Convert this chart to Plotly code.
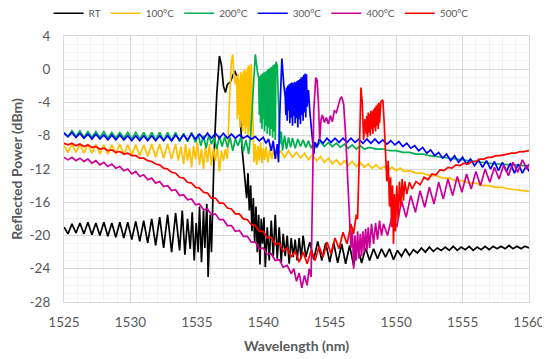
import plotly.graph_objects as go

# ---------------- data (wavelength nm, reflected power dBm) ----------------
rt_data = [
    (1525.0, -19.0), (1525.3, -19.8), (1525.6, -18.6), (1525.9, -19.7), (1526.2, -18.5), (1526.5, -19.8),
    (1526.8, -18.4), (1527.1, -19.9), (1527.4, -18.5), (1527.7, -20.0), (1528.0, -18.4), (1528.3, -20.1),
    (1528.6, -18.5), (1528.9, -20.2), (1529.2, -18.4), (1529.5, -20.3), (1529.8, -18.4), (1530.1, -20.5),
    (1530.4, -18.3), (1530.7, -20.7), (1531.0, -18.2), (1531.3, -20.9), (1531.6, -18.0), (1531.9, -21.2),
    (1532.2, -17.8), (1532.5, -21.5), (1532.8, -17.5), (1533.1, -22.0), (1533.4, -17.3), (1533.7, -21.8),
    (1533.9, -17.0), (1534.1, -22.3), (1534.3, -18.0), (1534.5, -21.6), (1534.65, -17.2), (1534.8, -23.0),
    (1534.95, -18.5), (1535.1, -22.0), (1535.2, -16.5), (1535.35, -23.2), (1535.5, -17.0), (1535.6, -21.5),
    (1535.75, -16.2), (1535.85, -25.0), (1536.0, -17.5), (1536.1, -22.0), (1536.2, -16.0), (1536.3, -10.0),
    (1536.5, -3.0), (1536.7, 1.6), (1536.85, 0.5), (1537.0, -2.0), (1537.15, -2.8), (1537.3, -1.8),
    (1537.5, -1.6), (1537.7, -0.9), (1537.85, -0.2), (1538.0, -0.8), (1538.2, -4.0), (1538.4, -9.5),
    (1538.6, -13.0), (1538.75, -15.5), (1538.85, -12.5), (1538.95, -17.0), (1539.05, -14.0), (1539.15, -19.5),
    (1539.25, -15.5), (1539.35, -20.8), (1539.45, -16.5), (1539.55, -22.0), (1539.65, -17.5), (1539.75, -23.5),
    (1539.85, -18.0), (1539.95, -21.0), (1540.05, -17.8), (1540.15, -23.8), (1540.3, -19.0), (1540.45, -23.0),
    (1540.6, -18.2), (1540.75, -22.5), (1540.9, -17.5), (1541.05, -22.8), (1541.2, -19.0), (1541.35, -23.2),
    (1541.5, -19.8), (1541.65, -22.5), (1541.8, -20.0), (1541.95, -23.4), (1542.1, -20.3), (1542.25, -22.6),
    (1542.4, -20.5), (1542.55, -23.0), (1542.7, -20.3), (1542.85, -22.8), (1543.0, -20.0), (1543.2, -22.6),
    (1543.5, -20.8), (1543.8, -22.9), (1544.1, -20.7), (1544.4, -23.0), (1544.7, -20.9), (1545.0, -23.2),
    (1545.3, -20.9), (1545.6, -23.3), (1545.9, -21.0), (1546.2, -23.4), (1546.5, -21.2), (1546.8, -23.6),
    (1547.1, -21.3), (1547.4, -23.3), (1547.7, -21.5), (1548.0, -23.0), (1548.3, -21.6), (1548.6, -22.8),
    (1548.9, -21.6), (1549.2, -22.6), (1549.5, -21.6), (1549.8, -22.9), (1550.1, -21.8), (1550.4, -22.5),
    (1550.7, -21.6), (1551.0, -22.4), (1551.3, -21.7), (1551.6, -22.1), (1551.9, -21.5), (1552.2, -22.0),
    (1552.5, -21.4), (1552.8, -21.9), (1553.1, -21.5), (1553.4, -21.8), (1553.7, -21.4), (1554.0, -21.8),
    (1554.3, -21.3), (1554.6, -21.8), (1554.9, -21.4), (1555.2, -21.7), (1555.5, -21.3), (1555.8, -21.8),
    (1556.1, -21.4), (1556.4, -21.7), (1556.7, -21.3), (1557.0, -21.7), (1557.3, -21.3), (1557.6, -21.6),
    (1557.9, -21.3), (1558.2, -21.6), (1558.5, -21.2), (1558.8, -21.6), (1559.1, -21.3), (1559.4, -21.6),
    (1559.7, -21.3), (1560.0, -21.5),
]

c100_data = [
    (1525.0, -9.2), (1525.3, -10.0), (1525.6, -9.0), (1525.9, -10.0), (1526.2, -9.0), (1526.5, -10.1),
    (1526.8, -9.0), (1527.1, -10.1), (1527.4, -9.0), (1527.7, -10.2), (1528.0, -9.1), (1528.3, -10.2),
    (1528.6, -9.1), (1528.9, -10.2), (1529.2, -9.0), (1529.5, -10.3), (1529.8, -9.1), (1530.1, -10.3),
    (1530.4, -9.1), (1530.7, -10.4), (1531.0, -9.1), (1531.3, -10.5), (1531.6, -9.0), (1531.9, -10.6),
    (1532.2, -9.0), (1532.5, -10.7), (1532.8, -9.0), (1533.1, -10.8), (1533.4, -9.0), (1533.6, -11.0),
    (1533.8, -9.3), (1534.0, -11.4), (1534.15, -9.0), (1534.3, -11.0), (1534.45, -9.5), (1534.6, -11.8),
    (1534.75, -9.2), (1534.9, -10.8), (1535.05, -8.8), (1535.2, -11.5), (1535.35, -9.6), (1535.5, -12.0),
    (1535.65, -9.2), (1535.8, -11.2), (1535.95, -9.0), (1536.1, -11.6), (1536.25, -9.5), (1536.4, -11.0),
    (1536.55, -9.3), (1536.7, -12.3), (1536.85, -9.8), (1537.0, -11.0), (1537.15, -9.6), (1537.3, -10.8),
    (1537.45, -4.0), (1537.6, 0.8), (1537.7, 1.8), (1537.8, -1.0), (1537.9, -1.8), (1538.0, -0.8),
    (1538.05, -6.0), (1538.1, -0.5), (1538.15, -5.5), (1538.2, -1.2), (1538.25, -7.0), (1538.3, -0.3),
    (1538.35, -6.2), (1538.4, -0.6), (1538.45, -7.5), (1538.5, -0.2), (1538.55, -6.8), (1538.6, 0.0),
    (1538.65, -7.8), (1538.7, -0.4), (1538.75, -7.0), (1538.8, 0.2), (1538.85, -8.2), (1538.9, 0.5),
    (1538.95, -7.5), (1539.0, 0.3), (1539.05, -8.5), (1539.1, 0.6), (1539.2, -5.0), (1539.3, -11.2),
    (1539.4, -9.0), (1539.5, -11.5), (1539.6, -9.2), (1539.7, -11.0), (1539.8, -8.8), (1539.9, -11.3),
    (1540.0, -9.5), (1540.1, -10.9), (1540.2, -9.3), (1540.35, -11.2), (1540.5, -9.6), (1540.65, -10.8),
    (1540.8, -9.5), (1541.0, -10.7), (1541.3, -9.8), (1541.6, -10.6), (1541.9, -9.8), (1542.2, -10.6),
    (1542.5, -10.0), (1542.8, -10.7), (1543.1, -10.1), (1543.4, -10.9), (1543.7, -10.3), (1544.0, -11.0),
    (1544.3, -10.5), (1544.6, -11.2), (1544.9, -10.7), (1545.2, -11.4), (1545.5, -10.9), (1545.8, -11.5),
    (1546.1, -11.0), (1546.4, -11.6), (1546.7, -11.1), (1547.0, -11.7), (1547.3, -11.2), (1547.6, -11.8),
    (1547.9, -11.4), (1548.2, -11.9), (1548.5, -11.5), (1548.8, -12.0), (1549.1, -11.7), (1549.4, -12.1),
    (1549.7, -11.8), (1550.0, -12.2), (1550.3, -11.9), (1550.6, -12.3), (1551.0, -12.2), (1551.5, -12.5),
    (1552.0, -12.5), (1552.5, -12.8), (1553.0, -12.8), (1553.5, -13.1), (1554.0, -13.1), (1554.5, -13.4),
    (1555.0, -13.4), (1555.5, -13.7), (1556.0, -13.7), (1556.5, -14.0), (1557.0, -14.0), (1557.5, -14.2),
    (1558.0, -14.2), (1558.5, -14.4), (1559.0, -14.5), (1559.5, -14.6), (1560.0, -14.7),
]

c200_data = [
    (1525.0, -7.6), (1525.3, -8.1), (1525.6, -7.4), (1525.9, -8.1), (1526.2, -7.4), (1526.5, -8.2),
    (1526.8, -7.5), (1527.1, -8.2), (1527.4, -7.5), (1527.7, -8.2), (1528.0, -7.5), (1528.3, -8.3),
    (1528.6, -7.6), (1528.9, -8.3), (1529.2, -7.6), (1529.5, -8.3), (1529.8, -7.6), (1530.1, -8.4),
    (1530.4, -7.6), (1530.7, -8.4), (1531.0, -7.6), (1531.3, -8.5), (1531.6, -7.6), (1531.9, -8.5),
    (1532.2, -7.6), (1532.5, -8.6), (1532.8, -7.6), (1533.1, -8.6), (1533.4, -7.6), (1533.7, -8.7),
    (1534.0, -7.7), (1534.3, -8.7), (1534.6, -7.6), (1534.9, -8.8), (1535.1, -7.8), (1535.3, -9.2),
    (1535.5, -8.0), (1535.7, -9.5), (1535.9, -7.9), (1536.1, -9.0), (1536.3, -8.2), (1536.5, -9.6),
    (1536.7, -8.0), (1536.9, -9.3), (1537.1, -8.1), (1537.3, -9.4), (1537.5, -8.2), (1537.7, -9.8),
    (1537.9, -8.4), (1538.1, -9.2), (1538.3, -8.2), (1538.5, -9.9), (1538.7, -8.5), (1538.9, -10.2),
    (1539.05, -7.8), (1539.2, -3.0), (1539.4, 1.8), (1539.55, -0.2), (1539.65, -1.0), (1539.7, -5.5),
    (1539.75, -0.8), (1539.8, -6.5), (1539.85, -0.6), (1539.9, -7.2), (1539.95, -0.5), (1540.0, -6.0),
    (1540.05, -0.4), (1540.1, -7.5), (1540.15, -0.3), (1540.2, -6.8), (1540.25, -0.2), (1540.3, -7.8),
    (1540.35, 0.0), (1540.4, -7.0), (1540.45, 0.1), (1540.5, -8.0), (1540.55, 0.2), (1540.6, -7.2),
    (1540.65, 0.3), (1540.7, -8.2), (1540.75, 0.5), (1540.8, -7.5), (1540.85, 0.6), (1540.9, -8.5),
    (1540.95, 0.9), (1541.05, 0.4), (1541.15, -4.0), (1541.25, -9.0), (1541.35, -7.5), (1541.45, -9.8),
    (1541.6, -8.0), (1541.75, -9.6), (1541.9, -8.2), (1542.05, -9.4), (1542.2, -8.3), (1542.4, -9.5),
    (1542.6, -8.4), (1542.8, -9.3), (1543.0, -8.5), (1543.2, -9.4), (1543.4, -8.6), (1543.6, -9.5),
    (1543.8, -8.7), (1544.0, -9.4), (1544.3, -8.7), (1544.6, -9.3), (1544.9, -8.8), (1545.2, -9.3),
    (1545.5, -8.9), (1545.8, -9.4), (1546.1, -9.0), (1546.4, -9.5), (1546.7, -9.1), (1547.0, -9.6),
    (1547.3, -9.2), (1547.6, -9.6), (1548.0, -9.4), (1548.5, -9.6), (1549.0, -9.6), (1549.5, -9.8),
    (1550.0, -9.8), (1550.5, -10.0), (1551.0, -10.0), (1551.5, -10.2), (1552.0, -10.2), (1552.5, -10.4),
    (1553.0, -10.5), (1553.5, -10.6), (1554.0, -10.7), (1554.5, -10.8), (1555.0, -10.9), (1555.5, -11.0),
    (1556.0, -11.1), (1556.5, -11.2), (1557.0, -11.3), (1557.5, -11.4), (1558.0, -11.4), (1558.5, -11.5),
    (1559.0, -11.5), (1559.5, -11.6), (1560.0, -11.6),
]

c300_data = [
    (1525.0, -7.7), (1525.3, -8.1), (1525.6, -7.6), (1525.9, -8.2), (1526.2, -7.7), (1526.5, -8.3),
    (1526.8, -7.8), (1527.1, -8.4), (1527.4, -7.8), (1527.7, -8.4), (1528.0, -7.9), (1528.3, -8.5),
    (1528.6, -7.9), (1528.9, -8.5), (1529.2, -7.9), (1529.5, -8.5), (1529.8, -8.0), (1530.1, -8.6),
    (1530.4, -8.0), (1530.7, -8.6), (1531.0, -8.0), (1531.3, -8.6), (1531.6, -8.0), (1531.9, -8.6),
    (1532.2, -8.0), (1532.5, -8.6), (1532.8, -8.0), (1533.1, -8.6), (1533.4, -7.9), (1533.7, -8.5),
    (1534.0, -7.9), (1534.3, -8.5), (1534.6, -7.8), (1534.9, -8.4), (1535.2, -7.8), (1535.5, -8.4),
    (1535.8, -7.7), (1536.1, -8.3), (1536.4, -7.7), (1536.7, -8.3), (1537.0, -7.7), (1537.3, -8.3),
    (1537.6, -7.8), (1537.9, -8.3), (1538.2, -7.9), (1538.5, -8.3), (1538.8, -8.0), (1539.1, -8.4),
    (1539.4, -8.1), (1539.7, -8.6), (1540.0, -8.2), (1540.2, -8.9), (1540.4, -8.4), (1540.6, -9.8),
    (1540.75, -8.6), (1540.9, -10.8), (1541.05, -9.0), (1541.15, -11.2), (1541.25, -5.0), (1541.4, 1.3),
    (1541.55, -2.0), (1541.65, -3.3), (1541.7, -5.5), (1541.75, -2.2), (1541.8, -6.2), (1541.85, -2.0),
    (1541.9, -5.0), (1541.95, -1.8), (1542.0, -6.5), (1542.05, -1.7), (1542.1, -5.8), (1542.15, -1.6),
    (1542.2, -6.8), (1542.25, -1.7), (1542.3, -5.6), (1542.35, -1.5), (1542.4, -6.5), (1542.45, -1.6),
    (1542.5, -5.9), (1542.55, -1.4), (1542.6, -7.0), (1542.65, -1.3), (1542.7, -6.0), (1542.75, -1.2),
    (1542.8, -6.6), (1542.85, -1.0), (1542.9, -5.5), (1542.95, -0.9), (1543.0, -6.2), (1543.05, -0.7),
    (1543.1, -5.2), (1543.15, -0.5), (1543.2, -5.8), (1543.25, -0.6), (1543.3, -4.5), (1543.4, -2.5),
    (1543.5, -5.0), (1543.6, -7.0), (1543.7, -8.5), (1543.8, -10.2), (1543.9, -8.8), (1544.05, -9.4),
    (1544.2, -8.4), (1544.5, -8.9), (1544.8, -8.3), (1545.1, -8.8), (1545.4, -8.3), (1545.7, -8.8),
    (1546.0, -8.3), (1546.3, -8.8), (1546.6, -8.3), (1546.9, -8.8), (1547.2, -8.4), (1547.5, -8.9),
    (1547.8, -8.4), (1548.1, -8.9), (1548.4, -8.4), (1548.7, -8.9), (1549.0, -8.5), (1549.3, -9.0),
    (1549.6, -8.6), (1549.9, -9.1), (1550.2, -8.7), (1550.5, -9.3), (1550.8, -8.9), (1551.1, -9.5),
    (1551.4, -9.2), (1551.7, -9.8), (1552.0, -9.4), (1552.3, -10.1), (1552.6, -9.7), (1552.9, -10.4),
    (1553.2, -10.0), (1553.5, -10.7), (1553.8, -10.2), (1554.1, -11.0), (1554.4, -10.4), (1554.7, -11.2),
    (1555.0, -10.6), (1555.3, -11.4), (1555.6, -10.8), (1555.9, -11.6), (1556.2, -10.9), (1556.5, -11.8),
    (1556.8, -11.0), (1557.1, -12.0), (1557.4, -11.1), (1557.7, -12.2), (1558.0, -11.2), (1558.3, -12.3),
    (1558.6, -11.3), (1558.9, -12.5), (1559.2, -11.4), (1559.5, -12.5), (1559.8, -11.6), (1560.0, -12.3),
]

c400_data = [
    (1525.0, -10.6), (1525.3, -10.9), (1525.6, -10.6), (1525.9, -11.0), (1526.2, -10.7), (1526.5, -11.1),
    (1526.8, -10.8), (1527.1, -11.3), (1527.4, -11.0), (1527.7, -11.5), (1528.0, -11.2), (1528.3, -11.7),
    (1528.6, -11.4), (1528.9, -11.9), (1529.2, -11.7), (1529.5, -12.2), (1529.8, -12.0), (1530.1, -12.6),
    (1530.4, -12.3), (1530.7, -12.9), (1531.0, -12.7), (1531.3, -13.3), (1531.6, -13.1), (1531.9, -13.7),
    (1532.2, -13.5), (1532.5, -14.1), (1532.8, -14.0), (1533.1, -14.6), (1533.4, -14.5), (1533.7, -15.2),
    (1534.0, -15.1), (1534.3, -15.7), (1534.6, -15.6), (1534.9, -16.3), (1535.2, -16.2), (1535.5, -16.9),
    (1535.8, -16.8), (1536.1, -17.5), (1536.4, -17.4), (1536.7, -18.1), (1537.0, -18.1), (1537.3, -18.8),
    (1537.6, -18.8), (1537.9, -19.5), (1538.2, -19.4), (1538.5, -20.1), (1538.8, -20.1), (1539.1, -20.8),
    (1539.4, -20.8), (1539.7, -21.6), (1540.0, -21.5), (1540.3, -22.3), (1540.6, -22.2), (1540.9, -23.0),
    (1541.2, -22.9), (1541.5, -23.8), (1541.8, -23.6), (1542.1, -24.6), (1542.3, -24.0), (1542.5, -25.5),
    (1542.7, -24.5), (1542.9, -26.3), (1543.1, -24.8), (1543.3, -26.0), (1543.45, -24.0), (1543.6, -25.0),
    (1543.7, -15.0), (1543.8, -5.0), (1543.95, -1.0), (1544.05, -1.3), (1544.15, -4.0), (1544.25, -8.5),
    (1544.35, -6.0), (1544.45, -5.5), (1544.6, -6.4), (1544.75, -5.8), (1544.9, -6.6), (1545.05, -5.6),
    (1545.2, -6.3), (1545.35, -5.0), (1545.5, -5.2), (1545.65, -4.3), (1545.8, -3.5), (1545.9, -3.3),
    (1546.05, -4.2), (1546.2, -8.0), (1546.35, -13.0), (1546.5, -18.0), (1546.6, -21.5), (1546.7, -19.0),
    (1546.8, -24.0), (1546.9, -20.0), (1547.0, -23.0), (1547.1, -19.5), (1547.2, -22.8), (1547.3, -19.8),
    (1547.4, -22.5), (1547.5, -19.5), (1547.6, -22.0), (1547.7, -19.2), (1547.8, -21.8), (1547.9, -19.0),
    (1548.0, -21.5), (1548.15, -18.6), (1548.3, -21.0), (1548.45, -18.5), (1548.6, -20.5), (1548.75, -18.2),
    (1548.9, -20.0), (1549.05, -18.6), (1549.35, -20.0), (1549.7, -17.6), (1550.05, -19.0), (1550.4, -15.8),
    (1550.75, -17.8), (1551.1, -15.2), (1551.45, -17.2), (1551.8, -14.6), (1552.15, -16.6), (1552.5, -14.2),
    (1552.85, -16.2), (1553.2, -13.6), (1553.55, -15.6), (1553.9, -13.2), (1554.25, -15.2), (1554.6, -12.9),
    (1554.95, -14.8), (1555.3, -12.6), (1555.65, -14.4), (1556.0, -12.3), (1556.35, -14.0), (1556.7, -12.0),
    (1557.05, -13.6), (1557.4, -11.8), (1557.75, -13.2), (1558.1, -11.5), (1558.45, -12.8), (1558.8, -11.2),
    (1559.15, -12.4), (1559.5, -10.9), (1559.85, -12.0), (1560.0, -11.4),
]

c500_data = [
    (1525.0, -8.9), (1525.3, -9.1), (1525.6, -8.9), (1525.9, -9.2), (1526.2, -9.0), (1526.5, -9.3),
    (1526.8, -9.1), (1527.1, -9.4), (1527.4, -9.3), (1527.7, -9.6), (1528.0, -9.5), (1528.3, -9.8),
    (1528.6, -9.7), (1528.9, -10.0), (1529.2, -9.9), (1529.5, -10.2), (1529.8, -10.1), (1530.1, -10.4),
    (1530.4, -10.4), (1530.7, -10.7), (1531.0, -10.7), (1531.3, -11.0), (1531.6, -11.1), (1531.9, -11.4),
    (1532.2, -11.5), (1532.5, -11.9), (1532.8, -12.0), (1533.1, -12.4), (1533.4, -12.5), (1533.7, -13.0),
    (1534.0, -13.1), (1534.3, -13.6), (1534.6, -13.7), (1534.9, -14.2), (1535.2, -14.3), (1535.5, -14.8),
    (1535.8, -14.9), (1536.1, -15.5), (1536.4, -15.5), (1536.7, -16.1), (1537.0, -16.1), (1537.3, -16.7),
    (1537.6, -16.8), (1537.9, -17.4), (1538.2, -17.4), (1538.5, -18.0), (1538.8, -18.1), (1539.1, -18.7),
    (1539.4, -18.8), (1539.7, -19.5), (1540.0, -19.5), (1540.3, -20.3), (1540.6, -20.2), (1540.9, -21.1),
    (1541.2, -20.9), (1541.5, -21.9), (1541.8, -21.5), (1542.1, -22.6), (1542.4, -21.9), (1542.7, -23.2),
    (1543.0, -22.0), (1543.3, -23.4), (1543.6, -21.8), (1543.9, -23.0), (1544.2, -21.3), (1544.5, -22.6),
    (1544.8, -20.8), (1545.1, -22.2), (1545.4, -20.3), (1545.7, -21.6), (1546.0, -19.6), (1546.3, -21.0),
    (1546.6, -18.6), (1546.8, -19.8), (1547.0, -17.5), (1547.1, -18.0), (1547.2, -12.0), (1547.3, -5.0),
    (1547.35, -2.2), (1547.45, -4.0), (1547.55, -8.5), (1547.65, -6.0), (1547.75, -7.8), (1547.8, -5.6),
    (1547.85, -8.2), (1547.9, -5.2), (1547.95, -7.6), (1548.0, -5.4), (1548.05, -8.0), (1548.1, -5.0),
    (1548.15, -7.2), (1548.2, -5.1), (1548.25, -7.8), (1548.3, -4.8), (1548.35, -7.0), (1548.4, -4.6),
    (1548.45, -7.5), (1548.5, -4.4), (1548.55, -6.8), (1548.6, -4.2), (1548.65, -7.2), (1548.7, -4.0),
    (1548.75, -6.5), (1548.85, -3.9), (1549.0, -3.7), (1549.1, -6.5), (1549.2, -10.0), (1549.3, -13.5),
    (1549.4, -11.0), (1549.5, -16.5), (1549.58, -13.0), (1549.66, -19.0), (1549.73, -14.0), (1549.8, -21.0),
    (1549.88, -15.0), (1549.95, -19.5), (1550.05, -14.0), (1550.15, -18.0), (1550.25, -13.5), (1550.35, -16.5),
    (1550.45, -13.2), (1550.55, -15.8), (1550.65, -13.5), (1550.8, -15.0), (1551.0, -13.6), (1551.2, -14.4),
    (1551.5, -13.5), (1551.8, -13.9), (1552.1, -13.0), (1552.4, -13.3), (1552.7, -12.6), (1553.0, -12.7),
    (1553.3, -12.1), (1553.6, -12.2), (1553.9, -11.8), (1554.2, -11.9), (1554.5, -11.5), (1554.8, -11.6),
    (1555.1, -11.3), (1555.4, -11.4), (1555.7, -11.1), (1556.0, -11.1), (1556.3, -10.8), (1556.6, -10.8),
    (1556.9, -10.6), (1557.2, -10.6), (1557.5, -10.4), (1557.8, -10.4), (1558.1, -10.3), (1558.4, -10.2),
    (1558.7, -10.1), (1559.0, -10.1), (1559.3, -9.9), (1559.6, -9.9), (1560.0, -9.8),
]

series_names = ["RT", "100°C", "200°C", "300°C", "400°C", "500°C"]
series_data = [rt_data, c100_data, c200_data, c300_data, c400_data, c500_data]
series_colors = ["#000000", "#FFC000", "#00B050", "#0000FF", "#CC0099", "#FF0000"]

x_ticks = [1525, 1530, 1535, 1540, 1545, 1550, 1555, 1560]
y_ticks = [4, 0, -4, -8, -12, -16, -20, -24, -28]

# ---------------- figure ----------------
fig = go.Figure()
for name, data, color in zip(series_names, series_data, series_colors):
    wl = [p[0] for p in data]
    pw = [p[1] for p in data]
    fig.add_trace(go.Scatter(x=wl, y=pw, mode="lines", name=name,
                             line=dict(color=color, width=1.7)))

font_family = "Lato, Open Sans, sans-serif"
grey = "#595959"

# page body has an 8px default margin, so the figure is sized to fit the 550x359 window
fig.update_layout(
    width=542, height=351,
    margin=dict(l=56, r=21, t=28, b=57, autoexpand=False),
    paper_bgcolor="white", plot_bgcolor="white",
    font=dict(family=font_family, color=grey, size=13),
    showlegend=True,
    legend=dict(orientation="h", x=0.467, xanchor="center", xref="container",
                y=0.985, yanchor="middle", yref="container",
                font=dict(size=10, color=grey), itemwidth=30,
                tracegroupgap=0, bgcolor="rgba(0,0,0,0)"),
    xaxis=dict(range=[1525, 1560], tickvals=x_ticks, ticktext=[str(v) for v in x_ticks],
               automargin=False,
               showgrid=True, gridcolor="#D9D9D9", gridwidth=1,
               minor=dict(dtick=1, showgrid=True, gridcolor="#F2F2F2", gridwidth=1),
               showline=True, linecolor="#D9D9D9", mirror=True, zeroline=False,
               ticks="outside", ticklen=8, tickcolor="rgba(0,0,0,0)",
               tickfont=dict(size=13.5, color=grey),
               title=dict(text="<b>Wavelength (nm)</b>", font=dict(size=14, color=grey), standoff=11)),
    yaxis=dict(range=[-28, 4], tickvals=y_ticks, ticktext=[str(v) for v in y_ticks],
               automargin=False,
               showgrid=True, gridcolor="#D9D9D9", gridwidth=1,
               minor=dict(dtick=1, showgrid=True, gridcolor="#F2F2F2", gridwidth=1),
               showline=True, linecolor="#D9D9D9", mirror=True, zeroline=False,
               ticks="outside", ticklen=10, tickcolor="rgba(0,0,0,0)",
               tickfont=dict(size=13.5, color=grey),
               title=dict(text="<b>Reflected Power (dBm)</b>", font=dict(size=14, color=grey), standoff=8)),
)

fig.write_html("out.html")
